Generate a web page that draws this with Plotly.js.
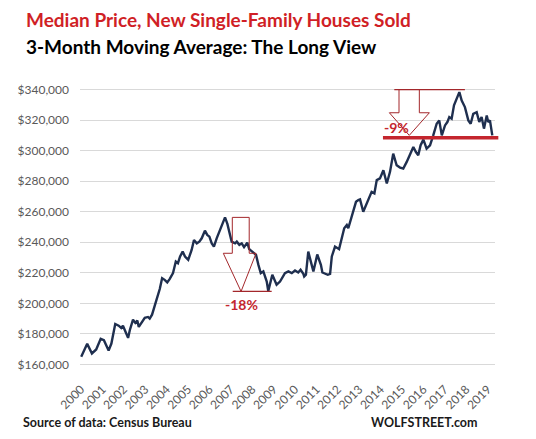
<!DOCTYPE html>
<html>
<head>
<meta charset="utf-8">
<script src="https://cdn.plot.ly/plotly-3.0.1.min.js"></script>
<style>html,body{margin:0;padding:0;background:#fff;}#chart{width:536px;height:439px;}</style>
</head>
<body>
<div id="chart"></div>
<script>
// Decimal year of each reading
const years = [2000.01,2000.29,2000.51,2000.71,2000.92,2001.07,2001.29,2001.42,2001.60,2001.76,
2001.88,2001.96,2002.09,2002.20,2002.28,2002.43,2002.54,2002.63,2002.70,2002.82,
2002.98,2003.13,2003.21,2003.32,2003.41,2003.52,2003.68,2003.79,2003.91,2004.03,
2004.14,2004.30,2004.43,2004.53,2004.63,2004.75,2004.86,2005.01,2005.17,2005.28,
2005.41,2005.53,2005.64,2005.79,2005.90,2006.00,2006.11,2006.21,2006.34,2006.50,
2006.62,2006.73,2006.84,2006.96,2007.04,2007.20,2007.28,2007.40,2007.51,2007.62,
2007.77,2007.86,2008.02,2008.18,2008.29,2008.40,2008.52,2008.68,2008.75,2008.94,
2009.14,2009.30,2009.53,2009.69,2009.85,2009.92,2010.00,2010.15,2010.26,2010.39,
2010.43,2010.51,2010.62,2010.78,2010.86,2011.04,2011.21,2011.28,2011.53,2011.64,
2011.72,2011.87,2012.06,2012.30,2012.42,2012.49,2012.70,2012.85,2012.96,2013.04,
2013.19,2013.35,2013.46,2013.58,2013.71,2013.82,2013.97,2014.13,2014.29,2014.44,
2014.59,2014.75,2014.91,2015.06,2015.22,2015.37,2015.53,2015.65,2015.76,2015.87,
2016.00,2016.15,2016.31,2016.46,2016.62,2016.74,2016.86,2017.01,2017.12,2017.21,
2017.32,2017.43,2017.56,2017.68,2017.79,2017.94,2018.10,2018.21,2018.33,2018.49,
2018.61,2018.72,2018.83,2018.96,2019.03,2019.11,2019.22];

// Median price, 3-month moving average, thousands of dollars
const pricesK = [165.0,173.5,167.2,169.8,176.8,175.9,169.1,173.7,186.5,185.4,
183.9,185.4,181.1,177.4,182.4,189.3,187.2,188.7,184.6,187.2,
190.5,191.1,190.0,192.6,197.6,201.9,209.4,216.5,215.4,213.7,
215.9,219.8,227.4,226.3,230.7,233.9,230.7,228.5,235.0,241.5,
239.3,240.4,242.6,247.6,244.8,243.7,239.3,237.2,242.6,248.0,
252.4,256.3,252.0,245.9,240.4,239.3,240.4,238.3,239.3,236.8,
239.8,235.5,233.9,231.7,225.2,219.8,220.9,214.3,208.0,218.7,
212.2,214.3,219.8,220.9,219.8,220.9,221.5,220.2,222.0,219.3,
217.6,218.7,233.9,225.2,220.9,232.0,225.2,220.2,218.7,219.3,
230.7,237.2,235.5,249.2,251.3,249.2,258.9,266.5,267.6,268.1,
260.0,265.5,268.7,273.0,272.0,280.7,281.8,287.2,278.5,286.1,
298.0,290.4,288.9,288.3,292.6,297.0,302.4,299.1,297.0,303.5,
307.2,301.3,303.5,310.0,317.6,319.8,310.0,316.5,318.7,322.0,
320.9,329.6,333.9,338.3,332.8,328.5,319.8,317.6,324.1,325.2,
318.7,322.0,314.4,323.0,318.7,319.8,310.0];

const tickYears = [2000,2001,2002,2003,2004,2005,2006,2007,2008,2009,2010,2011,2012,2013,2014,2015,2016,2017,2018,2019];
const tickLabels = tickYears.map(String);

const titleMain = "Median Price, New Single-Family Houses Sold";
const titleSub = "3-Month Moving Average: The Long View";
const sourceText = "Source of data: Census Bureau";
const brandText = "WOLFSTREET.com";
const drop1Label = "-18%";
const drop2Label = "-9%";

const prices = pricesK.map(v => v * 1000);

const trace = {
  x: years, y: prices, type: 'scatter', mode: 'lines',
  line: {color: '#1f2f4f', width: 2.4},
  hoverinfo: 'skip'
};

// block arrow helper (path in data units)
function blockArrow(xl, xr, top, stemBottom, hl, hr, tipX, tipY) {
  return `M ${xl},${top} L ${xl},${stemBottom} L ${hl},${stemBottom} L ${tipX},${tipY} L ${hr},${stemBottom} L ${xr},${stemBottom} L ${xr},${top} Z`;
}

const dark = '#a3272b';
const red = '#c4262e';

const shapes = [
  {type:'path', xref:'x', yref:'y', layer:'above',
   path: blockArrow(2007.07, 2007.86, 256300, 232800, 2006.65, 2008.18, 2007.48, 207800),
   line:{color: dark, width:1}, fillcolor:'rgba(0,0,0,0)'},
  {type:'line', xref:'x', yref:'y', x0:2007.09, x1:2008.91, y0:207800, y1:207800, layer:'above',
   line:{color: dark, width:1.3}},
  {type:'path', xref:'x', yref:'y', layer:'above',
   path: blockArrow(2014.86, 2015.81, 340000, 324800, 2014.41, 2016.28, 2015.34, 310000),
   line:{color: dark, width:1}, fillcolor:'rgba(0,0,0,0)'},
  {type:'line', xref:'x', yref:'y', x0:2014.64, x1:2017.94, y0:340000, y1:340000, layer:'above',
   line:{color: dark, width:1.3}},
  {type:'line', xref:'paper', yref:'y', x0:0.730, x1:1.008, y0:308500, y1:308500, layer:'above',
   line:{color: red, width:3.5}}
];

const annotations = [
  {text: titleMain, xref:'paper', yref:'paper', x:-0.135, y:1.245, xanchor:'left', yanchor:'middle',
   showarrow:false, font:{family:'Lato', size:19, color:'#d01f26', weight:'bold'}},
  {text: titleSub, xref:'paper', yref:'paper', x:-0.135, y:1.148, xanchor:'left', yanchor:'middle',
   showarrow:false, font:{family:'Lato', size:19, color:'#000000', weight:'bold'}},
  {text: sourceText, xref:'paper', yref:'paper', x:-0.142, y:-0.205, xanchor:'left', yanchor:'middle',
   showarrow:false, font:{family:'Lato', size:12.5, color:'#1a1a1a', weight:'bold'}},
  {text: brandText, xref:'paper', yref:'paper', x:0.965, y:-0.205, xanchor:'right', yanchor:'middle',
   showarrow:false, font:{family:'Lato', size:12.5, color:'#1a1a1a', weight:'bold'}},
  {text: drop1Label, xref:'x', yref:'y', x:2007.48, y:199100, xanchor:'center', yanchor:'middle',
   showarrow:false, font:{family:'Lato', size:14, color:red, weight:'bold'}},
  {text: drop2Label, xref:'x', yref:'y', x:2014.75, y:315400, xanchor:'center', yanchor:'middle',
   showarrow:false, font:{family:'Lato', size:14, color:red, weight:'bold'}}
];

const layout = {
  width: 536, height: 439,
  margin: {l: 80, r: 41, t: 87.5, b: 72.5, pad: 0},
  paper_bgcolor: '#ffffff', plot_bgcolor: '#ffffff',
  showlegend: false,
  xaxis: {
    range: [1999.953, 2019.346], tickmode:'array', tickvals: tickYears, ticktext: tickLabels,
    tickangle: -45, showgrid: false, zeroline: false, showline: false, ticks: '',
    ticklabelstandoff: 13,
    tickfont: {family: 'Lato', size: 12, color: '#595959'}
  },
  yaxis: {
    range: [159000, 341000], dtick: 20000, tick0: 160000, tickformat: '$,.0f',
    showgrid: true, gridcolor: '#d9d9d9', gridwidth: 1, zeroline: false, showline: false, ticks: '',
    ticklabelstandoff: 10,
    tickfont: {family: 'Lato', size: 12, color: '#595959'}
  },
  shapes: shapes,
  annotations: annotations
};

Plotly.newPlot('chart', [trace], layout, {staticPlot: true, displayModeBar: false});
</script>
</body>
</html>
